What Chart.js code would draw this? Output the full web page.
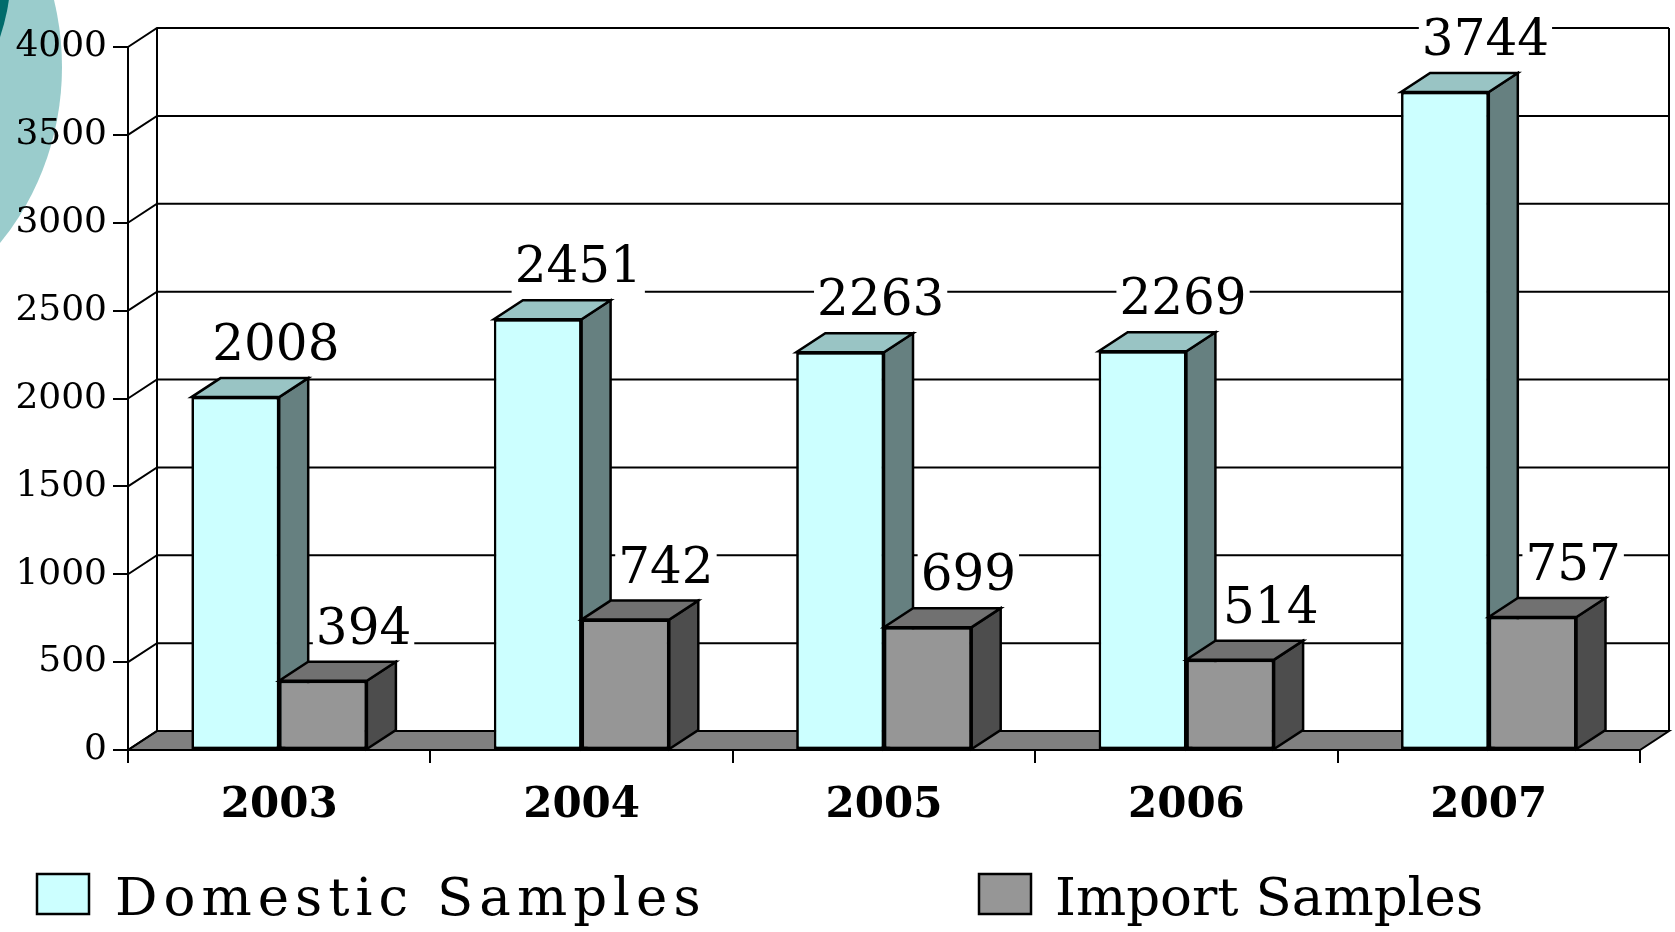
<!DOCTYPE html>
<html><head><meta charset="utf-8">
<script src="https://cdn.jsdelivr.net/npm/chart.js@4.4.1/dist/chart.umd.min.js"></script>
<style>html,body{margin:0;padding:0;background:#fff;overflow:hidden}canvas{display:block}</style>
</head><body>
<canvas id="c" width="1675" height="932"></canvas>
<script>
const years = ['2003', '2004', '2005', '2006', '2007'];
const domesticSamples = [2008, 2451, 2263, 2269, 3744];
const importSamples = [394, 742, 699, 514, 757];
const seriesNames = ['Domestic Samples', 'Import Samples'];
const yMin = 0, yMax = 4000, yStep = 500;

const DX = 29, DY = -19;
const faces = [
  { front: '#CCFFFF', top: '#99C4C4', side: '#668080' },
  { front: '#969696', top: '#717171', side: '#4D4D4D' }
];

const deco = {
  id: 'deco',
  beforeDraw(chart) {
    const ctx = chart.ctx;
    ctx.save();
    ctx.fillStyle = '#fff';
    ctx.fillRect(0, 0, chart.width, chart.height);
    ctx.fillStyle = '#9ACCCC';
    ctx.beginPath();
    ctx.ellipse(-192, 67, 254, 269, 0, 0, Math.PI * 2);
    ctx.fill();
    ctx.fillStyle = '#006B6B';
    ctx.beginPath();
    ctx.arc(-200, -30, 211, 0, Math.PI * 2);
    ctx.fill();
    ctx.restore();
  }
};

const wall = {
  id: 'wall',
  beforeDatasetsDraw(chart) {
    const ctx = chart.ctx, ys = chart.scales.y, a = chart.chartArea;
    ctx.save();
    ctx.strokeStyle = '#000';
    ctx.lineWidth = 2;
    const y0 = ys.getPixelForValue(yMin);
    ctx.fillStyle = '#808080';
    ctx.beginPath();
    ctx.moveTo(a.left, y0);
    ctx.lineTo(a.right, y0);
    ctx.lineTo(a.right + DX, y0 + DY);
    ctx.lineTo(a.left + DX, y0 + DY);
    ctx.closePath();
    ctx.fill();
    ctx.stroke();
    ys.ticks.forEach(t => {
      const yy = ys.getPixelForValue(t.value);
      ctx.beginPath();
      ctx.moveTo(a.left, yy);
      ctx.lineTo(a.left + DX, yy + DY);
      ctx.lineTo(a.right + DX, yy + DY);
      ctx.stroke();
    });
    const yt = ys.getPixelForValue(yMax);
    ctx.beginPath();
    ctx.moveTo(a.left + DX, y0 + DY);
    ctx.lineTo(a.left + DX, yt + DY);
    ctx.moveTo(a.right + DX, y0 + DY);
    ctx.lineTo(a.right + DX, yt + DY);
    ctx.stroke();
    ctx.restore();
  },
  afterDatasetsDraw(chart) {
    const ctx = chart.ctx;
    chart.data.datasets.forEach((ds, di) => {
      const f = faces[di];
      chart.getDatasetMeta(di).data.forEach(bar => {
        bar.draw(ctx);
        const p = bar.getProps(['x', 'y', 'base', 'width'], true);
        const l = p.x - p.width / 2, r = p.x + p.width / 2;
        ctx.save();
        ctx.strokeStyle = '#000';
        ctx.lineWidth = 2.5;
        ctx.lineJoin = 'miter';
        ctx.fillStyle = f.side;
        ctx.beginPath();
        ctx.moveTo(r, p.y);
        ctx.lineTo(r + DX, p.y + DY);
        ctx.lineTo(r + DX, p.base + DY);
        ctx.lineTo(r, p.base);
        ctx.closePath();
        ctx.fill(); ctx.stroke();
        ctx.fillStyle = f.top;
        ctx.beginPath();
        ctx.moveTo(l, p.y);
        ctx.lineTo(r, p.y);
        ctx.lineTo(r + DX, p.y + DY);
        ctx.lineTo(l + DX, p.y + DY);
        ctx.closePath();
        ctx.fill(); ctx.stroke();
        ctx.restore();
      });
    });
    ctx.save();
    ctx.font = '50px "DejaVu Serif"';
    ctx.textAlign = 'center';
    ctx.textBaseline = 'alphabetic';
    chart.data.datasets.forEach((ds, di) => {
      chart.getDatasetMeta(di).data.forEach((bar, i) => {
        const p = bar.getProps(['x', 'y', 'width'], true);
        const txt = String(ds.data[i]);
        const cx = p.x + DX / 2 + 26;
        const cy = p.y + DY - 36;
        const base = cy + 18;
        const w = ctx.measureText(txt).width;
        ctx.fillStyle = '#fff';
        ctx.fillRect(cx - w / 2 - 3, base - 36 - 8, w + 6, 36 + 8 + 16);
        ctx.fillStyle = '#000';
        ctx.fillText(txt, cx, base);
      });
    });
    ctx.restore();
  },
  afterDraw(chart) {
    const ctx = chart.ctx;
    ctx.save();
    const items = [
      { bx: 37, tx: 115, spacing: 6 },
      { bx: 979, tx: 1055, spacing: 0 }
    ];
    chart.data.datasets.forEach((ds, di) => {
      const it = items[di];
      ctx.fillStyle = ds.backgroundColor;
      ctx.strokeStyle = '#000';
      ctx.lineWidth = 2.5;
      ctx.fillRect(it.bx, 874, 52, 40);
      ctx.strokeRect(it.bx, 874, 52, 40);
      ctx.fillStyle = '#000';
      ctx.font = '53px "DejaVu Serif"';
      ctx.textAlign = 'left';
      ctx.textBaseline = 'alphabetic';
      ctx.letterSpacing = it.spacing + 'px';
      ctx.fillText(ds.label, it.tx, 915);
    });
    ctx.restore();
  }
};

new Chart(document.getElementById('c'), {
  type: 'bar',
  data: {
    labels: years,
    datasets: [
      { label: seriesNames[0], data: domesticSamples, backgroundColor: faces[0].front, borderColor: '#000', borderWidth: 2.5, borderSkipped: false },
      { label: seriesNames[1], data: importSamples, backgroundColor: faces[1].front, borderColor: '#000', borderWidth: 2.5, borderSkipped: false }
    ]
  },
  options: {
    responsive: false,
    animation: false,
    devicePixelRatio: 1,
    layout: { padding: { top: 47, right: 35, left: 0, bottom: 0 } },
    datasets: { bar: { categoryPercentage: 0.58, barPercentage: 1 } },
    plugins: { legend: { display: false }, tooltip: { enabled: false } },
    scales: {
      x: {
        offset: true,
        afterFit: s => { s.height = 182; },
        grid: { display: true, drawOnChartArea: false, drawTicks: true, tickLength: 13, color: '#000', lineWidth: 2, offset: true },
        border: { display: true, color: '#000', width: 2 },
        ticks: { color: '#000', padding: 18, font: { family: 'DejaVu Serif', size: 42, weight: 'bold' } }
      },
      y: {
        min: yMin, max: yMax,
        afterFit: s => { s.width = 128; },
        grid: { display: true, drawOnChartArea: false, drawTicks: true, tickLength: 15, color: '#000', lineWidth: 2 },
        border: { display: true, color: '#000', width: 2 },
        ticks: { stepSize: yStep, color: '#000', padding: 6, font: { family: 'DejaVu Serif', size: 36 }, callback: v => String(v) }
      }
    }
  },
  plugins: [deco, wall]
});
</script>
</body></html>
